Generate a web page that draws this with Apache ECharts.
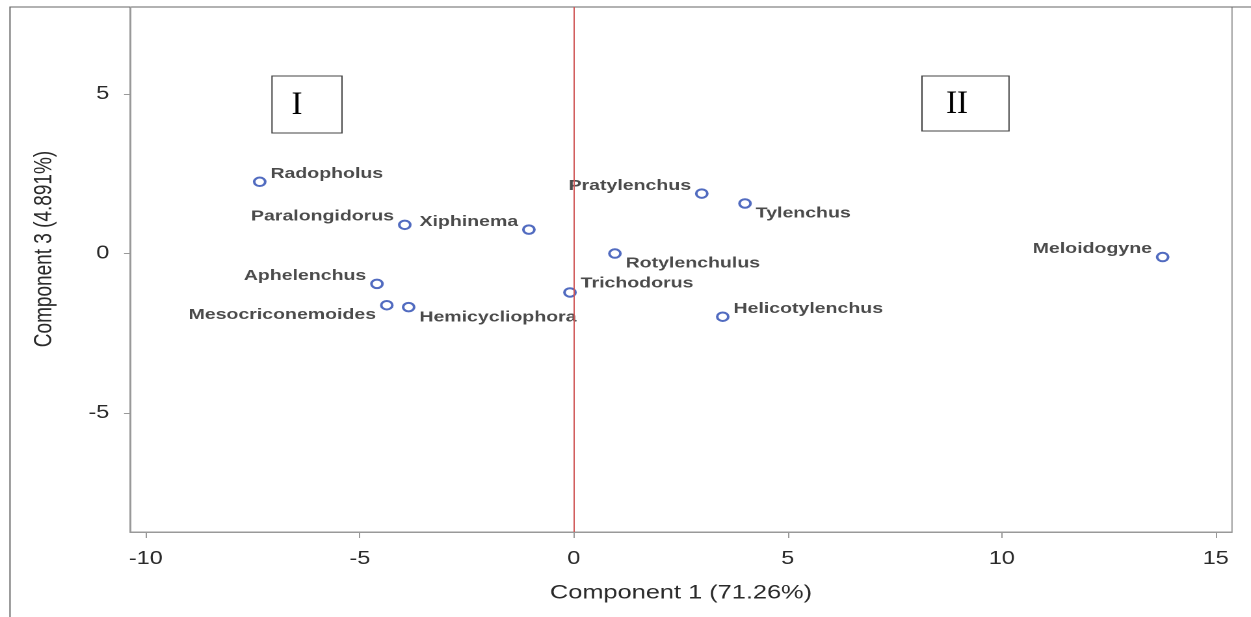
<!DOCTYPE html>
<html>
<head>
<meta charset="utf-8">
<title>Component 1 vs Component 3</title>
<script src="https://cdn.jsdelivr.net/npm/echarts@6.0.0/dist/echarts.min.js"></script>
<style>
  html, body { margin: 0; padding: 0; background: #fff; overflow: hidden; }
  /* the source picture is stretched sideways, so the chart is drawn narrow and widened */
  #main { width: 962px; height: 617px; transform: scaleX(1.3004); transform-origin: 0 0; }
</style>
</head>
<body>
<div id="main"></div>
<script>
var S = 1251 / 962;

var names = ['Radopholus', 'Paralongidorus', 'Xiphinema', 'Aphelenchus', 'Mesocriconemoides',
  'Hemicycliophora', 'Trichodorus', 'Rotylenchulus', 'Pratylenchus', 'Tylenchus',
  'Helicotylenchus', 'Meloidogyne'];
var comp1 = [-7.34, -3.95, -1.05, -4.60, -4.37, -3.86, -0.09, 0.96, 2.99, 4.00, 3.48, 13.76];
var comp3 = [2.25, 0.90, 0.75, -0.95, -1.62, -1.68, -1.22, 0.00, 1.88, 1.57, -1.98, -0.11];

var xTicks = [-10, -5, 0, 5, 10, 15];
var yTicks = [-5, 0, 5];
var xTitle = 'Component 1 (71.26%)';
var yTitle = 'Component 3 (4.891%)';
var groups = ['I', 'II'];

// where each name sits next to its circle: side, vertical nudge
var labelPlace = {
  Radopholus: ['right', -8],
  Paralongidorus: ['left', -8.5],
  Xiphinema: ['left', -8],
  Aphelenchus: ['left', -8],
  Mesocriconemoides: ['left', 9.5],
  Hemicycliophora: ['right', 10],
  Trichodorus: ['right', -9],
  Rotylenchulus: ['right', 10],
  Pratylenchus: ['left', -7.5],
  Tylenchus: ['right', 10],
  Helicotylenchus: ['right', -8],
  Meloidogyne: ['left', -8]
};

var font = '"Liberation Sans", Arial, sans-serif';

var points = names.map(function (n, i) {
  var p = labelPlace[n];
  return {
    name: n,
    value: [comp1[i], comp3[i]],
    label: { position: p[0], offset: [0, p[1]] }
  };
});

// group boxes (I, II) drawn as plain graphics, text kept unstretched
function groupBox(txt, x0, x1, y0, y1, tx) {
  return {
    type: 'group',
    children: [{
      type: 'rect',
      shape: { x: x0 / S, y: y0, width: (x1 - x0) / S, height: y1 - y0 },
      style: { fill: '#fff', stroke: '#444', lineWidth: 1 }
    }, {
      type: 'text',
      x: tx / S, y: (y0 + y1) / 2 + 1,
      scaleX: 1 / S,
      style: {
        text: txt, x: 0, y: 0,
        font: '33px "Liberation Serif", "Times New Roman", serif',
        fill: '#000', align: 'center', verticalAlign: 'middle'
      }
    }]
  };
}

var chart = echarts.init(document.getElementById('main'), null, { devicePixelRatio: 2 });

chart.setOption({
  animation: false,
  backgroundColor: '#fff',
  grid: {
    left: 100, right: 962 - 1232 / S, top: 7, bottom: 85,
    show: true, borderColor: '#999', borderWidth: 1
  },
  xAxis: {
    type: 'value',
    min: -10.37, max: 15.38,
    axisLine: { show: true, onZero: false, lineStyle: { color: '#999' } },
    axisTick: { show: true, length: 6, customValues: xTicks, lineStyle: { color: '#999' } },
    axisLabel: { customValues: xTicks, fontSize: 18, color: '#2a2a2a', margin: 18, fontFamily: font },
    splitLine: { show: false },
    name: xTitle,
    nameLocation: 'middle',
    nameGap: 51,
    nameTextStyle: { fontSize: 19.5, color: '#2a2a2a', fontFamily: font }
  },
  yAxis: {
    type: 'value',
    min: -8.73, max: 7.73,
    axisLine: { show: true, onZero: false, lineStyle: { color: '#999' } },
    axisTick: { show: true, length: 6 / S, customValues: yTicks, lineStyle: { color: '#999' } },
    axisLabel: { customValues: yTicks, fontSize: 18, color: '#2a2a2a', margin: 16, fontFamily: font },
    splitLine: { show: false },
    name: yTitle,
    nameLocation: 'middle',
    nameGap: 56,
    nameTextStyle: { fontSize: 19, color: '#2a2a2a', fontFamily: font, padding: [0, 0, 0, 41] }
  },
  series: [{
    type: 'scatter',
    data: points,
    symbol: 'circle',
    symbolSize: 8.5,
    itemStyle: { color: '#fff', borderColor: '#2646b0', borderWidth: 2 },
    label: {
      show: true,
      formatter: '{b}',
      distance: 3,
      fontSize: 15,
      fontWeight: 'bold',
      color: '#1e1e1e',
      fontFamily: font
    },
    markLine: {
      silent: true,
      symbol: 'none',
      label: { show: false },
      lineStyle: { color: '#d05555', width: 1, type: 'solid' },
      data: [{ xAxis: 0 }]
    }
  }],
  graphic: [
    {
      type: 'rect',
      shape: { x: 10 / S, y: 7, width: 2000, height: 1000 },
      style: { fill: 'none', stroke: '#666', lineWidth: 1 },
      z: 0
    },
    groupBox(groups[0], 272, 342, 76, 133, 297),
    groupBox(groups[1], 922, 1009, 76, 131, 957)
  ]
});
</script>
</body>
</html>
